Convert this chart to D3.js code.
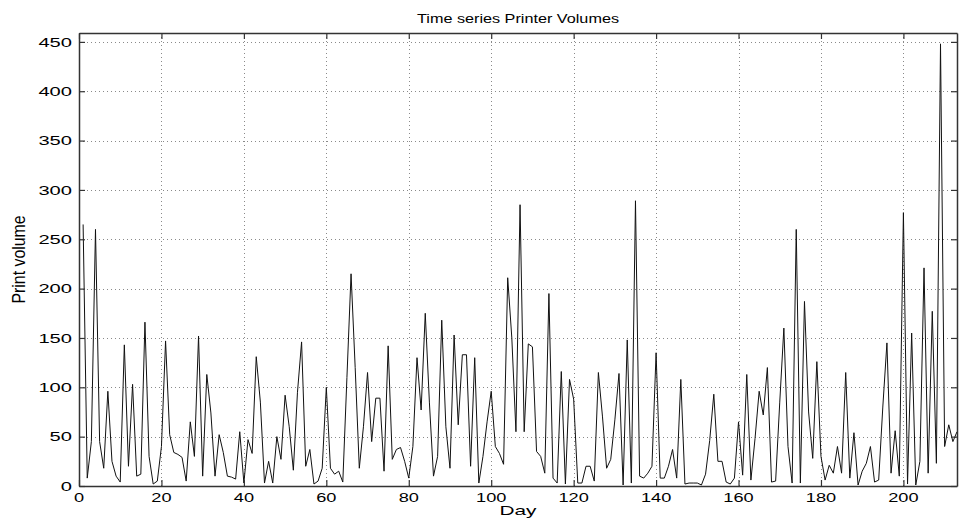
<!DOCTYPE html>
<html>
<head>
<meta charset="utf-8">
<script src="https://cdn.jsdelivr.net/npm/d3@7/dist/d3.min.js"></script>
<style>
  html, body { margin: 0; padding: 0; background: #fff; }
  svg { display: block; }
  text { font-family: "Liberation Sans", Arial, Helvetica, sans-serif; fill: #000; }
</style>
</head>
<body>
<script>
// ---- data (daily print volumes) ----
const volumes = [
  265, 8, 45, 260, 45, 18, 96, 25, 10, 4,
  143, 20, 103, 10, 12, 166, 30, 2, 5, 40,
  147, 52, 34, 32, 29, 5, 65, 30, 152, 10,
  113, 74, 10, 52, 34, 10, 9, 7, 55, 3,
  47, 33, 131, 85, 3, 25, 3, 50, 27, 92,
  60, 16, 95, 146, 20, 37, 2, 5, 18, 100,
  18, 12, 15, 4, 110, 215, 120, 18, 60, 115,
  45, 89, 89, 15, 142, 27, 37, 39, 25, 8,
  40, 130, 77, 175, 85, 10, 30, 168, 60, 18,
  153, 62, 133, 133, 20, 130, 3, 30, 65, 96,
  40, 33, 22, 211, 150, 55, 285, 55, 144, 141,
  35, 30, 13, 195, 8, 3, 116, 2, 108, 88,
  3, 3, 20, 20, 5, 115, 70, 18, 27, 67,
  114, 1, 148, 3, 289, 10, 8, 13, 20, 135,
  8, 8, 20, 37, 8, 108, 2, 3, 3, 3,
  1, 12, 46, 93, 25, 25, 4, 2, 8, 65,
  11, 113, 6, 48, 96, 72, 120, 4, 5, 85,
  160, 40, 3, 260, 3, 187, 75, 28, 126, 30,
  6, 21, 13, 40, 13, 115, 8, 54, 1, 15,
  23, 40, 4, 6, 80, 145, 13, 56, 10, 277,
  2, 155, 1, 25, 221, 13, 177, 23, 448, 40,
  62, 45, 55
];
const firstDay = 1;
const xTicks = [0, 20, 40, 60, 80, 100, 120, 140, 160, 180, 200];
const yTicks = [0, 50, 100, 150, 200, 250, 300, 350, 400, 450];
const xDomain = [0, 213];
const yDomain = [0, 459];
const titleText = "Time series Printer Volumes";
const xLabelText = "Day";
const yLabelText = "Print volume";

// ---- layout ----
const W = 962, H = 519;
const L = 79, R = 957, T = 33, B = 486;

const svg = d3.select("body").append("svg").attr("width", W).attr("height", H);

const x = d3.scaleLinear().domain(xDomain).range([L, R]);
const y = d3.scaleLinear().domain(yDomain).range([B, T]);

const data = volumes.map((v, i) => ({ day: firstDay + i, v }));

// grid
const grid = svg.append("g").attr("stroke", "#8a8a8a").attr("stroke-width", 1)
  .attr("stroke-dasharray", "1,3").attr("shape-rendering", "crispEdges");
grid.selectAll("line.gx").data(xTicks.filter(d => d > xDomain[0])).enter().append("line")
  .attr("x1", d => Math.round(x(d)) + 0.5).attr("x2", d => Math.round(x(d)) + 0.5)
  .attr("y1", T).attr("y2", B);
grid.selectAll("line.gy").data(yTicks.filter(d => d > yDomain[0])).enter().append("line")
  .attr("x1", L).attr("x2", R)
  .attr("y1", d => Math.round(y(d)) + 0.5).attr("y2", d => Math.round(y(d)) + 0.5);

// data line
const line = d3.line().x(d => x(d.day)).y(d => y(d.v));
svg.append("path").datum(data).attr("d", line)
  .attr("fill", "none").attr("stroke", "#111").attr("stroke-width", 1)
  .attr("stroke-linejoin", "miter");

// axes (ticks inside, box on)
const tickLen = 6;
const axB = svg.append("g").attr("transform", `translate(0,${B})`)
  .call(d3.axisBottom(x).tickValues(xTicks).tickSizeInner(-tickLen).tickSizeOuter(0).tickFormat(() => ""));
const axT = svg.append("g").attr("transform", `translate(0,${T})`)
  .call(d3.axisTop(x).tickValues(xTicks).tickSizeInner(-tickLen).tickSizeOuter(0).tickFormat(() => ""));
const axL = svg.append("g").attr("transform", `translate(${L},0)`)
  .call(d3.axisLeft(y).tickValues(yTicks).tickSizeInner(-tickLen).tickSizeOuter(0).tickFormat(() => ""));
const axR = svg.append("g").attr("transform", `translate(${R},0)`)
  .call(d3.axisRight(y).tickValues(yTicks).tickSizeInner(-tickLen).tickSizeOuter(0).tickFormat(() => ""));
[axB, axT, axL, axR].forEach(g => {
  g.selectAll(".domain").attr("stroke", "#333").attr("stroke-width", 1.5);
  g.selectAll(".tick line").attr("stroke", "#333").attr("stroke-width", 1.2);
});

// tick labels (stretched horizontally like the reference)
svg.append("g").selectAll("text").data(yTicks).enter().append("text")
  .attr("transform", d => `translate(72,${y(d) + 4.8}) scale(1.55,1)`)
  .attr("text-anchor", "end").attr("font-size", 13)
  .text(d => d);
svg.append("g").selectAll("text").data(xTicks).enter().append("text")
  .attr("transform", d => `translate(${x(d)},502) scale(1.4,1)`)
  .attr("text-anchor", "middle").attr("font-size", 13)
  .text(d => d);

// title and axis labels
svg.append("text").attr("x", (L + R) / 2).attr("y", 23)
  .attr("text-anchor", "middle").attr("font-size", 12.5)
  .attr("textLength", 202).attr("lengthAdjust", "spacingAndGlyphs")
  .text(titleText);
svg.append("text").attr("x", (L + R) / 2).attr("y", 515)
  .attr("text-anchor", "middle").attr("font-size", 13)
  .attr("textLength", 37).attr("lengthAdjust", "spacingAndGlyphs")
  .text(xLabelText);
svg.append("text")
  .attr("transform", `translate(25,${(T + B) / 2}) rotate(-90) scale(1,1.3)`)
  .attr("text-anchor", "middle").attr("font-size", 14)
  .attr("textLength", 88).attr("lengthAdjust", "spacingAndGlyphs")
  .text(yLabelText);
</script>
</body>
</html>
